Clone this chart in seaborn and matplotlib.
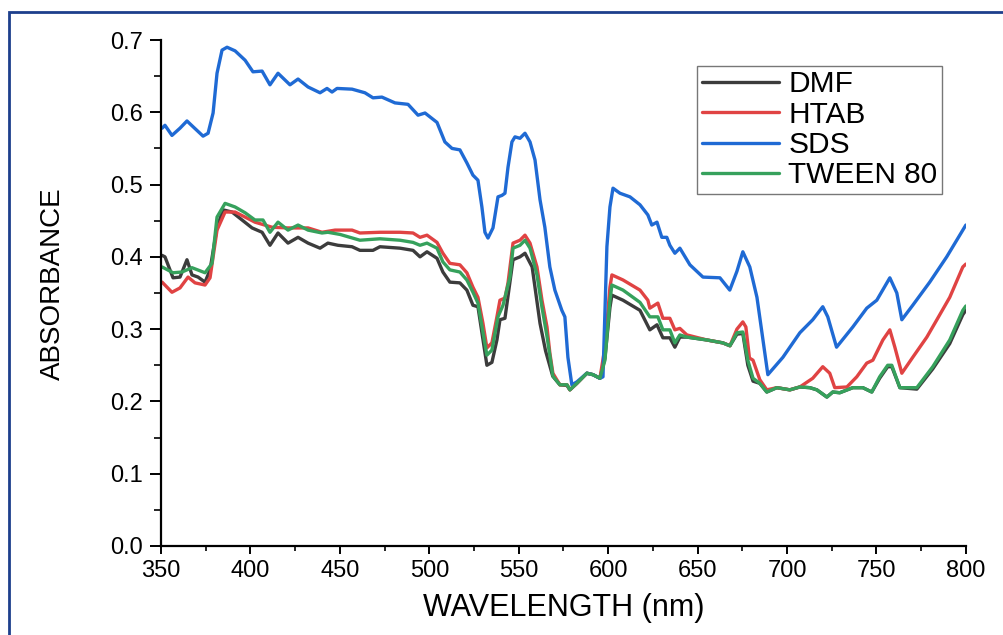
import numpy as np
import pandas as pd
import matplotlib
matplotlib.use("Agg")
import matplotlib.pyplot as plt
import seaborn as sns
from matplotlib.lines import Line2D
from matplotlib.patches import Rectangle

# ---------------- data ----------------
series_names = ["DMF", "HTAB", "SDS", "TWEEN 80"]

wl_dmf = [350.6, 352.2, 356.7, 360.6, 364.5, 367.3, 370.7, 374.6, 377.4, 381.3, 384.7, 389.7, 395.3, 400.9,
          406.5, 410.9, 415.4, 421.0, 426.6, 432.2, 438.9, 443.3, 448.9, 456.8, 461.2, 468.5, 472.4, 483.6,
          490.9, 494.8, 498.7, 504.3, 507.6, 511.5, 517.1, 521.0, 524.4, 527.2, 532.2, 535.0, 537.8, 539.5,
          542.3, 546.8, 550.7, 553.5, 557.5, 561.9, 565.0, 569.0, 573.0, 577.0, 578.6, 582.5, 588.1, 591.5,
          595.4, 598.2, 601.0, 602.1, 608.3, 617.8, 623.3, 627.3, 630.6, 634.5, 637.3, 640.1, 644.0, 655.2,
          664.1, 668.1, 672.0, 675.3, 678.1, 681.0, 684.8, 688.7, 694.3, 701.6, 707.2, 712.8, 716.7, 722.3,
          725.6, 729.5, 736.8, 742.4, 747.4, 751.8, 756.3, 758.6, 763.1, 772.6, 781.5, 791.0, 798.3, 800.0]
abs_dmf = [0.402, 0.400, 0.371, 0.372, 0.396, 0.375, 0.372, 0.365, 0.382, 0.441, 0.465, 0.462, 0.451, 0.440,
           0.434, 0.416, 0.433, 0.419, 0.427, 0.419, 0.412, 0.419, 0.416, 0.414, 0.409, 0.409, 0.414, 0.412,
           0.409, 0.400, 0.407, 0.398, 0.379, 0.365, 0.364, 0.354, 0.333, 0.331, 0.250, 0.254, 0.285, 0.313,
           0.315, 0.396, 0.400, 0.405, 0.386, 0.308, 0.270, 0.235, 0.223, 0.222, 0.216, 0.225, 0.239, 0.237,
           0.232, 0.260, 0.330, 0.347, 0.340, 0.326, 0.299, 0.306, 0.288, 0.288, 0.275, 0.289, 0.289, 0.285,
           0.281, 0.277, 0.293, 0.294, 0.250, 0.228, 0.225, 0.213, 0.219, 0.216, 0.220, 0.219, 0.216, 0.206,
           0.213, 0.212, 0.219, 0.219, 0.213, 0.232, 0.248, 0.248, 0.219, 0.217, 0.245, 0.280, 0.320, 0.326]

wl_htab = [350.6, 356.1, 360.6, 365.1, 369.0, 374.6, 377.4, 381.3, 385.8, 391.4, 397.0, 402.5, 412.0, 421.0,
           432.2, 440.0, 447.3, 456.8, 461.2, 472.4, 483.6, 490.9, 494.8, 498.7, 504.3, 507.6, 511.5, 517.1,
           521.0, 524.4, 527.2, 530.0, 532.2, 535.0, 537.8, 539.5, 542.3, 544.0, 546.8, 550.7, 553.5, 556.3,
           560.2, 563.0, 565.8, 567.4, 569.1, 573.0, 577.0, 578.6, 582.5, 588.1, 591.5, 595.4, 598.2, 601.0,
           602.1, 608.3, 617.8, 622.2, 623.3, 627.8, 630.6, 634.5, 637.3, 640.1, 644.0, 655.2, 664.1, 668.1,
           672.0, 675.3, 677.0, 679.0, 681.0, 684.8, 688.7, 694.3, 701.6, 707.2, 714.4, 720.0, 723.9, 726.7,
           733.5, 739.0, 744.6, 748.0, 753.6, 757.5, 760.3, 764.2, 770.3, 778.2, 783.8, 791.0, 798.3, 800.0]
abs_htab = [0.365, 0.351, 0.357, 0.372, 0.364, 0.361, 0.371, 0.437, 0.462, 0.462, 0.455, 0.448, 0.441, 0.440,
            0.440, 0.434, 0.437, 0.437, 0.433, 0.434, 0.434, 0.433, 0.427, 0.430, 0.420, 0.405, 0.391, 0.389,
            0.378, 0.358, 0.344, 0.308, 0.274, 0.281, 0.317, 0.340, 0.343, 0.364, 0.419, 0.423, 0.430, 0.419,
            0.386, 0.340, 0.303, 0.267, 0.239, 0.223, 0.223, 0.216, 0.225, 0.239, 0.237, 0.232, 0.275, 0.358,
            0.375, 0.368, 0.354, 0.340, 0.329, 0.336, 0.315, 0.315, 0.299, 0.301, 0.292, 0.285, 0.281, 0.277,
            0.300, 0.310, 0.303, 0.260, 0.257, 0.230, 0.216, 0.219, 0.216, 0.220, 0.232, 0.248, 0.239, 0.219,
            0.220, 0.234, 0.253, 0.257, 0.285, 0.299, 0.275, 0.239, 0.261, 0.289, 0.313, 0.344, 0.386, 0.390]

wl_sds = [350.6, 352.2, 356.1, 360.6, 364.5, 367.9, 373.5, 376.3, 379.1, 381.3, 384.1, 386.9, 391.4, 397.0,
          401.4, 406.5, 410.9, 415.4, 422.1, 426.6, 432.2, 438.9, 442.8, 445.6, 448.4, 456.8, 464.0, 468.5,
          473.5, 480.8, 488.1, 493.7, 497.6, 504.3, 508.7, 512.7, 517.1, 521.0, 524.4, 527.2, 529.4, 531.1,
          532.8, 535.6, 538.4, 540.6, 542.3, 544.0, 546.2, 547.9, 550.7, 553.5, 556.3, 559.1, 561.9, 564.6,
          567.4, 570.2, 574.1, 575.8, 577.5, 579.7, 582.5, 588.1, 591.5, 595.4, 597.1, 599.3, 601.0, 602.7,
          606.6, 612.2, 617.8, 622.2, 624.4, 627.3, 630.0, 632.8, 634.5, 637.3, 640.1, 645.7, 653.0, 662.5,
          668.0, 672.0, 675.3, 679.2, 683.2, 689.3, 697.7, 707.2, 714.4, 720.0, 722.8, 727.7, 736.8, 744.6,
          750.2, 757.5, 761.4, 764.2, 770.3, 779.8, 789.3, 798.3, 800.0]
abs_sds = [0.578, 0.582, 0.568, 0.578, 0.588, 0.580, 0.567, 0.571, 0.599, 0.654, 0.686, 0.690, 0.685, 0.672,
           0.656, 0.657, 0.638, 0.654, 0.638, 0.646, 0.635, 0.627, 0.633, 0.628, 0.633, 0.632, 0.627, 0.620,
           0.621, 0.613, 0.611, 0.596, 0.599, 0.586, 0.559, 0.550, 0.548, 0.530, 0.513, 0.506, 0.469, 0.434,
           0.426, 0.440, 0.483, 0.485, 0.488, 0.524, 0.559, 0.566, 0.564, 0.571, 0.559, 0.534, 0.479, 0.441,
           0.386, 0.354, 0.326, 0.317, 0.261, 0.223, 0.227, 0.239, 0.237, 0.232, 0.234, 0.414, 0.469, 0.495,
           0.488, 0.483, 0.472, 0.458, 0.444, 0.448, 0.427, 0.427, 0.416, 0.405, 0.412, 0.389, 0.372, 0.371,
           0.354, 0.380, 0.407, 0.386, 0.344, 0.237, 0.261, 0.295, 0.313, 0.331, 0.317, 0.275, 0.303, 0.329,
           0.340, 0.371, 0.350, 0.313, 0.333, 0.365, 0.400, 0.437, 0.444]

wl_tween = [350.6, 356.7, 361.7, 367.3, 374.6, 378.5, 381.3, 385.8, 391.4, 397.0, 402.5, 407.0, 410.9, 415.4,
            421.0, 426.6, 432.2, 440.0, 443.3, 450.1, 461.2, 472.4, 483.6, 490.9, 494.8, 498.7, 504.3, 507.6,
            511.5, 517.1, 521.0, 524.4, 527.2, 532.2, 535.0, 538.4, 541.2, 545.1, 546.8, 550.7, 553.5, 556.3,
            560.2, 563.0, 565.8, 569.1, 573.0, 577.0, 578.6, 582.5, 588.1, 591.5, 595.4, 598.2, 601.0, 602.1,
            608.3, 617.8, 623.3, 627.8, 630.6, 634.5, 637.3, 640.1, 644.0, 655.2, 664.1, 668.1, 672.0, 675.3,
            678.1, 681.0, 684.8, 688.7, 694.3, 701.6, 707.2, 712.8, 716.7, 722.3, 725.6, 729.5, 736.8, 742.4,
            747.4, 751.8, 756.3, 758.6, 763.1, 772.6, 781.5, 791.0, 798.3, 800.0]
abs_tween = [0.386, 0.378, 0.379, 0.385, 0.378, 0.391, 0.455, 0.474, 0.469, 0.461, 0.451, 0.451, 0.434, 0.448,
             0.437, 0.444, 0.437, 0.433, 0.434, 0.431, 0.423, 0.425, 0.423, 0.420, 0.416, 0.419, 0.412, 0.393,
             0.382, 0.379, 0.368, 0.351, 0.336, 0.264, 0.271, 0.317, 0.333, 0.372, 0.412, 0.416, 0.423, 0.412,
             0.375, 0.330, 0.290, 0.235, 0.223, 0.223, 0.216, 0.225, 0.239, 0.237, 0.232, 0.257, 0.340, 0.361,
             0.354, 0.337, 0.317, 0.317, 0.299, 0.299, 0.281, 0.292, 0.289, 0.285, 0.281, 0.277, 0.295, 0.296,
             0.257, 0.232, 0.225, 0.213, 0.219, 0.216, 0.220, 0.219, 0.216, 0.206, 0.213, 0.212, 0.219, 0.219,
             0.213, 0.234, 0.250, 0.250, 0.219, 0.219, 0.248, 0.285, 0.326, 0.332]

x_ticks = [350, 400, 450, 500, 550, 600, 650, 700, 750, 800]
y_ticks = [0.0, 0.1, 0.2, 0.3, 0.4, 0.5, 0.6, 0.7]
colors = {"DMF": "#3c3c3c", "HTAB": "#e04343", "SDS": "#1f6ad4", "TWEEN 80": "#36a15c"}

# ---------------- build long table ----------------
frames = []
for name, wl, ab in zip(series_names, [wl_dmf, wl_htab, wl_sds, wl_tween],
                        [abs_dmf, abs_htab, abs_sds, abs_tween]):
    frames.append(pd.DataFrame({"wavelength": wl, "absorbance": ab, "sample": name}))
df = pd.concat(frames, ignore_index=True)

# ---------------- plot ----------------
sns.set_style("ticks")
plt.rcParams["font.family"] = ["Liberation Sans", "DejaVu Sans"]
plt.rcParams["text.color"] = "black"
plt.rcParams["axes.labelcolor"] = "black"
plt.rcParams["xtick.color"] = "black"
plt.rcParams["ytick.color"] = "black"

fig = plt.figure(figsize=(10.04, 6.35), dpi=100)
ax = fig.add_axes([0.1604, 0.1402, 0.8016, 0.7968])

sns.lineplot(data=df, x="wavelength", y="absorbance", hue="sample", hue_order=series_names,
             palette=colors, estimator=None, sort=True, linewidth=2.4, ax=ax, legend=False)

ax.set_xlim(350, 800)
ax.set_ylim(0, 0.7)
ax.set_xticks(x_ticks)
ax.set_yticks(y_ticks)
ax.set_yticklabels([f"{v:.1f}" for v in y_ticks])
ax.set_xticks(np.arange(375, 800, 50), minor=True)
ax.set_yticks(np.arange(0.05, 0.7, 0.1), minor=True)

for side in ["top", "right"]:
    ax.spines[side].set_visible(False)
for side in ["left", "bottom"]:
    ax.spines[side].set_linewidth(1.6)
    ax.spines[side].set_color("black")

ax.tick_params(axis="x", which="major", direction="out", length=6, width=1.4, labelsize=17, pad=4,
               labelcolor="black")
ax.tick_params(axis="x", which="minor", direction="out", length=3.5, width=1.2)
ax.tick_params(axis="y", which="major", direction="out", length=8, width=1.4, labelsize=17, pad=5,
               labelcolor="black")
ax.tick_params(axis="y", which="minor", direction="out", length=5, width=1.2)

ax.set_xlabel("WAVELENGTH (nm)", fontsize=22, color="black")
ax.set_ylabel("ABSORBANCE", fontsize=20, color="black")
ax.xaxis.set_label_coords(0.5, -0.092)
ax.yaxis.set_label_coords(-0.118, 0.518)

handles = [Line2D([0], [0], color=colors[n], lw=2.4) for n in series_names]
leg = ax.legend(handles, series_names, loc="upper left", bbox_to_anchor=(0.666, 0.949),
                fontsize=21.5, frameon=True, fancybox=False, handlelength=2.6, handletextpad=0.3,
                labelspacing=0.08, borderpad=0.15, borderaxespad=0.0)
leg.get_frame().set_edgecolor("#555555")
leg.get_frame().set_linewidth(1.0)

# blue frame around the figure
fig.patches.append(Rectangle((9 / 1004, -0.05), 1.2, 1.05 - 12 / 635,
                             transform=fig.transFigure, fill=False,
                             edgecolor="#1d3f8c", linewidth=2.0))

fig.savefig("out.png", dpi=100)
